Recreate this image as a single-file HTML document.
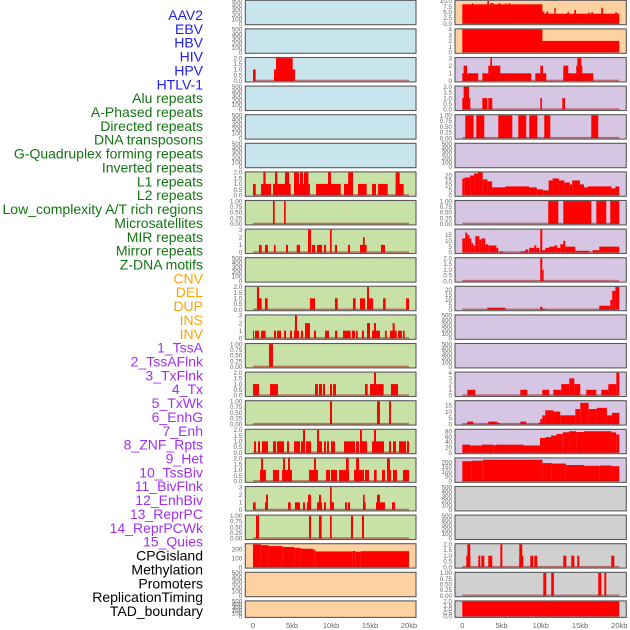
<!DOCTYPE html>
<html><head><meta charset="utf-8">
<style>
html,body{margin:0;padding:0;background:#fff;}
svg{display:block;font-family:"Liberation Sans",sans-serif;}
</style></head>
<body>
<svg id="chart" width="630" height="630" viewBox="0 0 630 630"></svg>
<script>
// ---- data: segments [startKb, endKb, value] ----
const hivLeft = [[0,0.34,1],[2.69,5.4,1],[2.95,5.09,2]];
const l1Left = [[0,0.35,1],[1.03,2.31,1],[1.33,1.62,2],[2.56,4.83,1],[2.82,3.12,2],[4.1,4.62,2],[5.26,7.3,1],[5.26,5.9,2],[6.03,6.41,2],[6.54,7.1,2],[8.08,11.24,1],[9.62,10,2],[11.67,12.82,1],[12.2,12.82,2],[13.46,14.57,1],[15.26,15.77,1],[16.03,17.27,1],[18.29,19.32,1],[18.29,18.8,2]];
const lowcLeft = [[2.56,2.78,1],[3.98,4.19,1]];
const mirLeft = [[0.77,1.11,1],[1.54,1.92,1],[2.69,2.9,1],[4.23,4.49,1],[5.6,6.03,1],[7.56,7.99,1],[8.21,8.85,1],[9.1,9.36,1],[10.5,10.77,1],[12.18,12.44,1],[13.72,14.57,1],[14.1,14.32,2],[16.41,16.92,1],[7.05,7.44,3],[9.87,10.09,3]];
const delLeft = [[0.51,1.11,1],[0.51,0.77,2],[1.54,1.88,1],[7.3,7.95,1],[10.51,10.86,1],[12.82,13.16,1],[13.72,14.36,1],[14.62,15.39,1],[14.62,14.87,2],[16.67,17.01,1],[19.62,20,1]];
const dupLeft = [[0,0.13,1],[0.26,0.77,1],[1.03,1.62,1],[2.69,2.95,1],[3.08,3.59,1],[3.98,4.23,1],[4.74,5,1],[5.26,5.9,1],[6.15,6.41,1],[6.67,7.3,1],[7.82,8.08,1],[9.23,9.74,1],[10.51,10.81,1],[11.54,12.52,1],[12.69,13.08,1],[13.21,13.42,1],[13.97,14.23,1],[14.62,15,1],[15.26,16.28,1],[16.92,17.14,1],[17.56,18.42,1],[18.59,19.1,1],[19.23,19.44,1],[6.67,7.3,2],[14.62,15,2],[15.5,15.77,2],[17.9,18.16,2],[5.38,5.64,3]];
const insLeft = [[2.05,2.56,1]];
const invLeft = [[0,0.77,1],[2.18,3.21,1],[7.95,8.33,1],[8.46,8.85,1],[8.97,9.23,1],[9.87,10.13,1],[10.26,10.64,1],[14.36,14.7,1],[15,16.75,1],[17.69,18.59,1],[15.51,15.77,2]];
const tssaLeft = [[9.87,10.13,1],[15.9,16.28,1],[17.44,17.69,1]];
const tssaflnkLeft = [[0.13,0.38,1],[0.64,0.9,1],[1.15,1.92,1],[2.56,2.95,1],[3.08,3.98,1],[4.36,4.62,1],[5.26,6.03,1],[6.15,6.67,1],[6.8,7.44,1],[8.21,8.85,1],[9.1,9.36,1],[9.49,9.74,1],[10,10.51,1],[11.67,13.08,1],[13.21,13.59,1],[13.72,14.62,1],[15.26,16.8,1],[17.44,17.69,1],[17.95,18.33,1],[18.72,19.62,1],[19.74,20,1],[6.41,6.67,2],[8.21,8.46,2],[13.72,13.97,2],[15.51,15.77,2]];
const txflnkLeft = [[0.9,1.67,1],[2.56,3.33,1],[3.72,5,1],[7.18,8.33,1],[9.36,9.87,1],[10,10.77,1],[11.03,12.31,1],[12.95,14.23,1],[14.36,14.87,1],[15.51,15.85,1],[16.54,16.92,1],[17.18,17.69,1],[17.95,18.46,1],[19.23,20,1],[1.03,1.28,2],[3.85,4.1,2],[4.49,4.74,2],[7.82,8.08,2],[11.92,12.27,2],[13.21,13.59,2],[17.18,17.56,2]];
const txLeft = [[0,0.34,1],[1.54,1.92,1],[4.49,4.83,1],[5.38,6.03,1],[6.41,6.67,1],[6.92,7.44,1],[8.21,8.85,1],[9.1,9.36,1],[9.87,10.38,1],[11.8,12.05,1],[12.18,12.44,1],[14.1,14.45,1],[15.77,16.92,1],[17.82,18.21,1],[1.67,1.92,2],[7.05,7.44,2],[8.46,8.72,2],[14.1,14.32,2],[15.9,16.28,2],[9.87,10.09,3]];
const txwkLeft = [[0.38,0.77,1],[7.18,7.44,1],[8.46,8.8,1],[9.87,10.09,1],[12.56,12.82,1],[13.97,14.23,1]];
const cpgLeft = [[0,1,255],[1,2,245],[2,3.8,235],[3.8,5.3,225],[5.3,6.1,215],[6.1,7.7,205],[7.7,8,195],[8,12.8,175],[12.8,13.1,180],[13.1,13.8,172],[13.8,20,178]];

const aavRight = [[0,10.2,8.5],[10.2,20,4.4],[1.23,1.36,9],[3.19,3.4,10],[3.57,4,9],[4.63,4.84,9],[5.48,5.6,9],[5.9,6.12,9],[10.19,10.45,5.3],[10.7,10.96,5.3],[11.72,11.89,7],[13.38,13.59,5],[14.27,14.48,6],[16.05,16.22,5],[16.43,16.65,5],[17.71,17.92,7],[19.49,19.7,5]];
const ebvRight = [[0,10.2,4],[10.2,20,2]];
const hivRight = [[0,2.04,1],[0.17,0.6,2],[2.55,4.84,1],[3.31,4.84,2],[3.57,3.78,3],[4.84,8.79,1],[9.3,10.7,1],[9.94,10.28,2],[12.87,16.69,1],[12.87,13.5,2],[14.52,15.29,2],[14.65,15.16,3]];
const hpvRight = [[0,1.02,1],[0.17,0.85,2],[2.55,3.19,1],[3.31,3.82,1],[9.94,10.15,1],[12.74,13.08,1]];
const htlvRight = [[0.38,1.44,1],[1.78,2.8,1],[4.58,6.37,1],[7.13,8.15,1],[8.53,9.55,1],[10.44,11.21,1],[16.43,17.32,1]];
const l1Right = [[0,0.3,17],[0.3,1,18],[1,1.5,20],[1.5,2,22],[2,2.6,23],[2.6,3.2,16],[3.2,3.8,14],[3.8,5.5,8],[5.5,8.5,9],[8.5,9.5,8],[9.5,10.3,6],[10.3,11,5],[11,11.5,15],[11.5,12.3,17],[12.3,13,15],[13,13.7,13],[13.7,14,11],[14,15,15],[15,15.5,11],[15.5,16,8],[16,19,9],[19,19.5,7],[19.5,20,9]];
const lowcRight = [[10.95,12.23,1],[12.87,16.43,1],[17.07,18.34,1],[18.85,20,1]];
const mirRight = [[0,0.38,12],[0.38,0.64,17],[0.64,0.9,15],[0.9,1.15,12],[1.15,1.4,8],[1.4,1.66,6],[1.66,2.17,14],[2.17,2.42,11],[2.42,2.93,12],[2.93,3.31,7],[3.31,4.33,6],[4.33,4.58,4],[4.71,5.22,1],[7.39,8,1],[8,8.4,2.5],[8.53,9.17,4],[9.17,9.42,6],[9.42,9.8,4],[9.8,9.93,1],[9.93,10.19,20],[10.19,10.57,2],[10.57,11.08,4],[11.08,11.71,5],[11.71,12.1,6],[12.1,12.48,4],[12.48,12.87,7],[12.87,13.12,10],[13.12,14.4,5],[14.4,16.2,1.5],[16.6,17.45,2],[17.45,20,5]];
const microRight = [[9.93,10.19,2],[10.19,10.36,1]];
const delRight = [[3.18,5.48,2],[9.93,10.19,3],[10.19,10.57,1],[17.45,18.85,4],[18.85,19.1,10],[19.1,19.5,19],[19.5,20,23]];
const txflnkRight = [[0.64,1.66,1],[7.39,8.28,1],[10.19,11.08,1],[11.59,12.61,1],[12.61,13.63,2],[13.63,14.27,3],[14.27,15.03,2],[15.79,17.07,1],[17.71,18.6,1],[18.6,19.62,2],[19.62,20,4]];
const txwkRight = [[0.64,1.4,2],[3.31,4.46,2],[4.46,4.8,1],[7.39,8.15,2],[9.68,9.93,1],[9.93,10.19,4],[10.19,10.57,7],[10.57,11.63,11],[11.63,12.48,10],[12.48,14.4,7],[14.4,15.03,12],[15.03,16.09,17],[16.09,17.15,12],[17.15,18.42,13],[18.42,19.06,7],[19.06,20,9]];
const enhRight = [[0,1,30],[1,2.5,27],[2.5,4,30],[4,4.3,28],[4.3,7.8,30],[7.8,9.9,27],[9.9,10.6,55],[10.6,11.3,58],[11.3,12,64],[12,12.8,70],[12.8,13.6,76],[13.6,14.5,80],[14.5,15.5,77],[15.5,19,80],[19,19.6,76],[19.6,20,68]];
const hetRight = [[0,1.2,210],[1.2,2.6,215],[2.6,10.2,225],[10.2,11.4,190],[11.4,13.2,185],[13.2,15.5,170],[15.5,17.5,162],[17.5,19,165],[19,20,158]];
const cpgRight = [[0.51,1.02,1],[0.64,1.02,2],[2.04,2.29,1],[2.42,2.8,1],[3.31,3.82,1],[4.84,5.1,2],[7.26,7.77,1],[7.26,7.64,2],[8.66,9.04,1],[9.17,9.55,1],[12.87,13.25,1],[13.89,14.27,1],[14.65,14.9,1],[18.98,19.36,1]];
const methRight = [[10.32,10.7,1],[11.33,11.67,1],[17.32,17.71,1],[18.09,18.34,1]];
const tadRight = [[0,20,2]];

// ---- tick label arrays ----
const ticks500 = ["0","100","200","300","400","500"];
const ticks2 = ["0.0","0.5","1.0","1.5","2.0"];
const ticks1 = ["0.00","0.25","0.50","0.75","1.00"];
const ticks3 = ["0","1","2","3"];
const ticks4 = ["0","1","2","3","4"];
const ticks10 = ["0.0","2.5","5.0","7.5","10.0"];
const ticks20 = ["0","5","10","15","20"];
const ticks15 = ["0","5","10","15"];
const ticks80 = ["0","20","40","60","80"];
const ticks200 = ["0","50","100","150","200"];
const ticksCpg = ["0","100","200"];
const xTickLabels = ["0","5kb","10kb","15kb","20kb"];
const xTickValues = [0,5,10,15,20];

const labels = ["AAV2","EBV","HBV","HIV","HPV","HTLV-1","Alu repeats","A-Phased repeats","Directed repeats","DNA transposons","G-Quadruplex forming repeats","Inverted repeats","L1 repeats","L2 repeats","Low_complexity A/T rich regions","Microsatellites","MIR repeats","Mirror repeats","Z-DNA motifs","CNV","DEL","DUP","INS","INV","1_TssA","2_TssAFlnk","3_TxFlnk","4_Tx","5_TxWk","6_EnhG","7_Enh","8_ZNF_Rpts","9_Het","10_TssBiv","11_BivFlnk","12_EnhBiv","13_ReprPC","14_ReprPCWk","15_Quies","CPGisland","Methylation","Promoters","ReplicationTiming","TAD_boundary"];
const labelColors = ["#2020f0","#2020f0","#2020f0","#2020f0","#2020f0","#2020f0","#127512","#127512","#127512","#127512","#127512","#127512","#127512","#127512","#127512","#127512","#127512","#127512","#127512","#ffa500","#ffa500","#ffa500","#ffa500","#ffa500","#a030f0","#a030f0","#a030f0","#a030f0","#a030f0","#a030f0","#a030f0","#a030f0","#a030f0","#a030f0","#a030f0","#a030f0","#a030f0","#a030f0","#a030f0","#000","#000","#000","#000","#000"];

const BLUE="#c8e4ec", GREEN="#c8e1a6", PEACH="#ffd1a0", PURPLE="#d6c6e3", GRAY="#d0d0d0";
// panel config: [data, max, ticks, bg]
const leftPanels = [
 [null,500,ticks500,BLUE],[null,500,ticks500,BLUE],[hivLeft,2,ticks2,BLUE],[null,500,ticks500,BLUE],[null,500,ticks500,BLUE],[null,500,ticks500,BLUE],
 [l1Left,2,ticks2,GREEN],[lowcLeft,1,ticks1,GREEN],[mirLeft,3,ticks3,GREEN],[null,500,ticks500,GREEN],[delLeft,2,ticks2,GREEN],[dupLeft,3,ticks3,GREEN],
 [insLeft,1,ticks1,GREEN],[invLeft,2,ticks2,GREEN],[tssaLeft,1,ticks1,GREEN],[tssaflnkLeft,2,ticks2,GREEN],[txflnkLeft,2,ticks2,GREEN],[txLeft,3,ticks3,GREEN],
 [txwkLeft,1,ticks1,GREEN],[cpgLeft,255,ticksCpg,PEACH],[null,500,ticks500,PEACH],[null,500,ticks500,PEACH]];
const rightPanels = [
 [aavRight,10,ticks10,PEACH],[ebvRight,4,ticks4,PEACH],[hivRight,3,ticks3,PURPLE],[hpvRight,2,ticks2,PURPLE],[htlvRight,1,ticks1,PURPLE],[null,500,ticks500,PURPLE],
 [l1Right,23,ticks20,PURPLE],[lowcRight,1,ticks1,PURPLE],[mirRight,19.5,ticks15,PURPLE],[microRight,2,ticks2,PURPLE],[delRight,23,ticks20,PURPLE],[null,500,ticks500,PURPLE],
 [null,500,ticks500,PURPLE],[txflnkRight,4,ticks4,PURPLE],[txwkRight,18.2,ticks15,PURPLE],[enhRight,85,ticks80,PURPLE],[hetRight,238,ticks200,PURPLE],[null,500,ticks500,GRAY],
 [null,500,ticks500,GRAY],[cpgRight,2,ticks2,GRAY],[methRight,1,ticks1,GRAY],[tadRight,2,ticks2,GRAY]];

const NS="http://www.w3.org/2000/svg";
const svg=document.getElementById('chart');
function mk(tag,attrs,parent){const e=document.createElementNS(NS,tag);for(const k in attrs)e.setAttribute(k,attrs[k]);(parent||svg).appendChild(e);return e;}

// labels
labels.forEach((t,i)=>{
  const el=mk('text',{x:203,y:15+i*13.86+5,'text-anchor':'end','font-size':'14px',fill:labelColors[i]});
  el.textContent=t;
  
  
});

function panelTop(i){return i*28.6+0.3;}
function panelH(i){return i===21?16.5:24.4;}

function drawColumn(panels,px0,px1,x0,x1,side){
  const xs=kb=>x0+(x1-x0)*kb/20;
  panels.forEach((p,i)=>{
    const [data,max,ticks,bg]=p;
    const top=panelTop(i),h=panelH(i),bot=top+h;
    const g=mk('g',{});
    
    
    mk('rect',{x:px0,y:top,width:px1-px0,height:h,fill:bg},g);
    const ys=v=>(bot-1)-(h-1.6)*v/max;
    if(data){
      data.forEach(s=>{
        const r=mk('rect',{x:xs(s[0]),y:ys(s[2]),width:Math.max(0.8,xs(s[1])-xs(s[0])),height:ys(0)-ys(s[2]),fill:'#ff0000'},g);
        
        
      });
      const bl=mk('rect',{x:xs(0),y:bot-2.2,width:xs(20)-xs(0),height:1.6,fill:'rgba(170,30,30,0.55)'},g);
      
      
    }
    mk('rect',{x:px0,y:top,width:px1-px0,height:h,fill:'none',stroke:'#5a5a5a','stroke-width':1.1},g);
    ticks.forEach((t,k)=>{
      const v=parseFloat(t);
      const yy=ys(v);
      const tx=mk('text',{x:px0-3,y:yy+2.2,'text-anchor':'end','font-size':'6.3px',fill:'#666'},g);
      tx.textContent=t;
      
      
    });
  });
  xTickValues.forEach((v,k)=>{
    const tx=mk('text',{x:xs(v),y:628,'text-anchor':'middle','font-size':'7.5px',fill:'#666'});
    tx.textContent=xTickLabels[k];
    
    
  });
}
drawColumn(leftPanels,245.3,416,253,409,'left');
drawColumn(rightPanels,455,626.3,462.3,619.3,'right');
</script>
</body></html>
